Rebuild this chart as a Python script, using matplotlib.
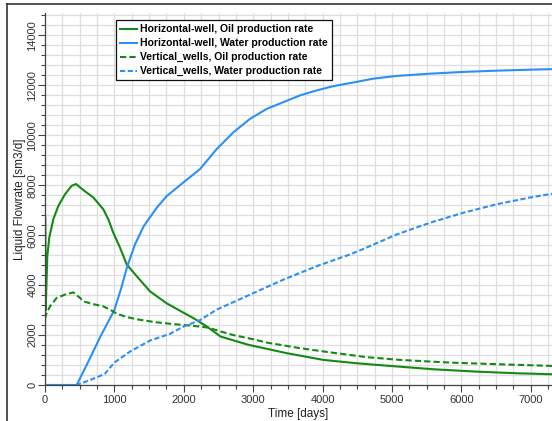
import matplotlib
matplotlib.use("Agg")
import matplotlib.pyplot as plt
from matplotlib.lines import Line2D
from matplotlib.ticker import MultipleLocator

# values (days, sm3/d)
hz_oil_t = [0, 2, 10, 33, 62, 120, 192, 288, 385, 447, 552, 696, 840, 912, 984, 1081,
            1177, 1321, 1513, 1754, 1993, 2137, 2330, 2530, 2930, 3483, 4011, 4492,
            4972, 5596, 6221, 6797, 7305]
hz_oil_q = [0, 6720, 3000, 5160, 5910, 6640, 7170, 7640, 7980, 8050, 7810, 7510, 7040,
            6640, 6100, 5500, 4830, 4360, 3750, 3270, 2900, 2680, 2345, 1940, 1610, 1275,
            1005, 870, 764, 630, 535, 470, 430]

hz_wat_t = [0, 457, 600, 800, 999, 1100, 1186, 1300, 1420, 1610, 1754, 1993, 2234, 2474,
            2714, 2954, 3195, 3434, 3675, 3915, 4155, 4467, 4731, 5068, 5548, 6028, 6509,
            6989, 7305]
hz_wat_q = [0, 0, 800, 1950, 3000, 3900, 4760, 5650, 6350, 7100, 7570, 8110, 8650, 9450,
            10120, 10660, 11060, 11330, 11600, 11800, 11970, 12130, 12270, 12380, 12470,
            12540, 12590, 12630, 12650]

vt_oil_t = [0, 14, 72, 168, 288, 408, 504, 552, 696, 840, 937, 1033, 1177, 1369, 1610,
            1849, 2137, 2350, 2522, 2714, 3002, 3195, 3675, 4155, 4636, 5116, 5836, 6557,
            7305]
vt_oil_q = [2650, 2815, 3150, 3490, 3620, 3710, 3490, 3350, 3240, 3150, 3020, 2860, 2720,
            2610, 2510, 2440, 2370, 2300, 2150, 2000, 1830, 1700, 1475, 1290, 1115, 1005,
            897, 830, 764]

vt_wat_t = [0, 457, 650, 860, 1000, 1225, 1513, 1800, 2000, 2234, 2474, 2954, 3434, 3915,
            4395, 4587, 5068, 5548, 6028, 6509, 6989, 7305]
vt_wat_q = [0, 0, 200, 440, 900, 1340, 1780, 2050, 2345, 2600, 3020, 3620, 4220, 4760,
            5230, 5450, 6030, 6500, 6900, 7240, 7510, 7660]

labels = ["Horizontal-well, Oil production rate",
          "Horizontal-well, Water production rate",
          "Vertical_wells, Oil production rate",
          "Vertical_wells, Water production rate"]

GREEN = "#138a13"
BLUE = "#2b90f5"

plt.rcParams["font.family"] = ["Liberation Sans", "DejaVu Sans"]

fig = plt.figure(figsize=(5.52, 4.21), dpi=100)
ax = fig.add_axes([45 / 552, 1 - 385 / 421, 507 / 552, 372 / 421])

ax.plot(hz_oil_t, hz_oil_q, color=GREEN, lw=1.5, label=labels[0])
ax.plot(hz_wat_t, hz_wat_q, color=BLUE, lw=1.5, label=labels[1])
ax.plot(vt_oil_t, vt_oil_q, color=GREEN, lw=1.5, ls=(0, (3, 1.5)), label=labels[2])
ax.plot(vt_wat_t, vt_wat_q, color=BLUE, lw=1.5, ls=(0, (2.5, 1.2)), label=labels[3])

ax.set_xlim(0, 7305)
ax.set_ylim(0, 14900)
ax.xaxis.set_major_locator(MultipleLocator(1000))
ax.xaxis.set_minor_locator(MultipleLocator(250))
ax.yaxis.set_major_locator(MultipleLocator(2000))
ax.yaxis.set_minor_locator(MultipleLocator(400))
ax.grid(True, which="both", color="#dedede", lw=0.9)
ax.set_axisbelow(True)

for s in ("top", "right"):
    ax.spines[s].set_visible(False)
for s in ("left", "bottom"):
    ax.spines[s].set_color("#444444")
    ax.spines[s].set_linewidth(0.9)

ax.tick_params(which="major", length=5, width=0.8, color="#444444", labelsize=8,
               labelcolor="#333333", pad=2)
ax.tick_params(axis="y", which="major", pad=0.5)
ax.tick_params(which="minor", length=3, width=0.8, color="#444444")
plt.setp(ax.get_yticklabels(), rotation=90, va="center")

ax.set_xlabel("Time [days]", fontsize=8.5, color="#222222", labelpad=2)
ax.set_ylabel("Liquid Flowrate [sm3/d]", fontsize=8.5, color="#222222", labelpad=1)

leg = ax.legend(loc="upper left", bbox_to_anchor=(0.14, 0.981),
                prop={"weight": "bold", "size": 7.5}, frameon=True, fancybox=False,
                handlelength=1.65, handletextpad=0.3, labelspacing=0.38,
                borderpad=0.4, borderaxespad=0)
leg.get_frame().set_edgecolor("#111111")
leg.get_frame().set_linewidth(0.9)
leg.get_frame().set_alpha(1)

# border of the screenshot (top and left only)
fig.add_artist(Line2D([7 / 552, 1], [1 - 4 / 421, 1 - 4 / 421], transform=fig.transFigure,
                      color="#333333", lw=1.2))
fig.add_artist(Line2D([7 / 552, 7 / 552], [0, 1 - 4 / 421], transform=fig.transFigure,
                      color="#333333", lw=1.2))

fig.savefig("out.png", dpi=100)
